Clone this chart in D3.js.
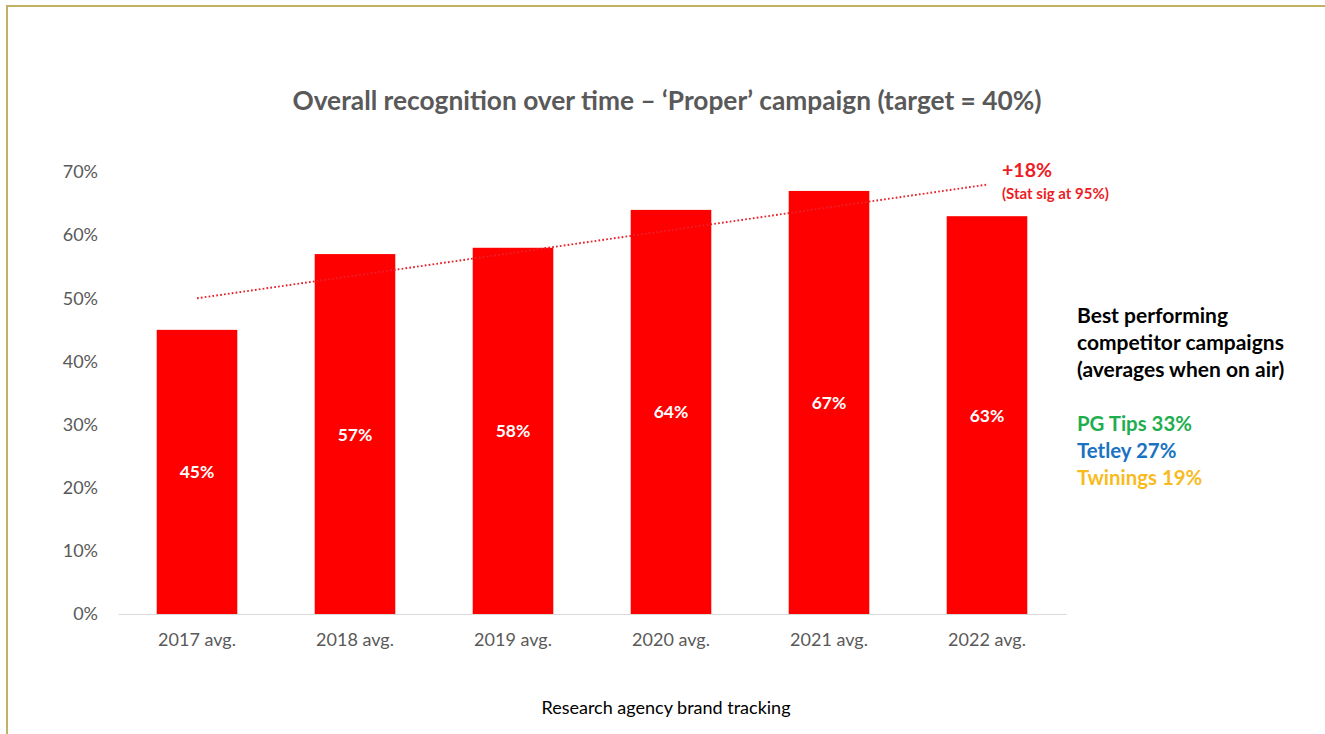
<!DOCTYPE html>
<html>
<head>
<meta charset="utf-8">
<script src="https://cdn.jsdelivr.net/npm/d3@7"></script>
<style>
  html, body { margin: 0; padding: 0; background: #ffffff; }
  svg { display: block; }
</style>
</head>
<body>
<svg id="chart" width="1325" height="734"></svg>
<script>
// Recognition by year (share of respondents)
const categories = ["2017 avg.", "2018 avg.", "2019 avg.", "2020 avg.", "2021 avg.", "2022 avg."];
const recognition = [0.45, 0.57, 0.58, 0.64, 0.67, 0.63];
const yTicks = [0, 0.1, 0.2, 0.3, 0.4, 0.5, 0.6, 0.7];

// Competitor benchmarks shown in the side panel
const competitorNames = ["PG Tips", "Tetley", "Twinings"];
const competitorValues = [0.33, 0.27, 0.19];
const competitorColors = ["#1fae4f", "#1a72c2", "#f7bb1e"];

const titleText = "Overall recognition over time \u2013 \u2018Proper\u2019 campaign (target = 40%)";
const changeText = "+18%";
const sigText = "(Stat sig at 95%)";
const panelLines = ["Best performing", "competitor campaigns", "(averages when on air)"];
const sourceText = "Research agency brand tracking";

const FONT = "Lato, 'Open Sans', sans-serif";
const svg = d3.select("#chart");

// Frame
svg.append("rect")
  .attr("x", 7).attr("y", 6)
  .attr("width", 1340).attr("height", 760)
  .attr("fill", "none")
  .attr("stroke", "#c2b063")
  .attr("stroke-width", 2);

const plot = { left: 118, right: 1066, top: 172, bottom: 614 };

const x = d3.scaleBand()
  .domain(categories)
  .range([plot.left, plot.right])
  .paddingInner(0.49)
  .paddingOuter(0.245);

const y = d3.scaleLinear()
  .domain([0, 0.7])
  .range([plot.bottom, plot.top]);

const pct = d3.format(".0%");

// Title
svg.append("text")
  .attr("x", 667).attr("y", 110)
  .attr("text-anchor", "middle")
  .attr("font-family", FONT)
  .attr("font-weight", 700)
  .attr("font-size", 26.3)
  .attr("fill", "#595959")
  .text(titleText);

// Y axis labels (no line, no ticks)
const yAxis = d3.axisLeft(y)
  .tickValues(yTicks)
  .tickFormat(pct)
  .tickSize(0)
  .tickPadding(0);
const yg = svg.append("g")
  .attr("transform", `translate(98,0)`)
  .call(yAxis);
yg.select(".domain").remove();
yg.selectAll("text")
  .attr("font-family", FONT)
  .attr("font-size", 18)
  .attr("fill", "#595959");

// Bars
svg.append("g").selectAll("rect")
  .data(recognition)
  .join("rect")
  .attr("x", (d, i) => x(categories[i]))
  .attr("y", d => y(d))
  .attr("width", x.bandwidth())
  .attr("height", d => y(0) - y(d))
  .attr("fill", "#ff0000");

// Baseline and category labels
const xAxis = d3.axisBottom(x).tickSize(0).tickPadding(19);
const xg = svg.append("g")
  .attr("transform", `translate(0,${plot.bottom})`)
  .call(xAxis);
xg.select(".domain").attr("stroke", "#d9d9d9").attr("stroke-width", 1.2);
xg.selectAll("text")
  .attr("font-family", FONT)
  .attr("font-size", 18)
  .attr("fill", "#595959");

// Value labels centred in each bar
svg.append("g").selectAll("text")
  .data(recognition)
  .join("text")
  .attr("x", (d, i) => x(categories[i]) + x.bandwidth() / 2)
  .attr("y", d => (y(d) + y(0)) / 2 + 6.5)
  .attr("text-anchor", "middle")
  .attr("font-family", FONT)
  .attr("font-weight", 700)
  .attr("font-size", 17.5)
  .attr("fill", "#ffffff")
  .text(d => pct(d));

// Linear trend line across the yearly values
const idx = recognition.map((d, i) => i);
const mx = d3.mean(idx), my = d3.mean(recognition);
const slope = d3.sum(idx, i => (i - mx) * (recognition[i] - my)) / d3.sum(idx, i => (i - mx) ** 2);
const intercept = my - slope * mx;
const trend = idx.map(i => ({ cat: categories[i], v: intercept + slope * i }));
const cx = c => x(c) + x.bandwidth() / 2;
svg.append("path")
  .datum([trend[0], trend[trend.length - 1]])
  .attr("d", d3.line().x(d => cx(d.cat)).y(d => y(d.v)))
  .attr("fill", "none")
  .attr("stroke", "#e8202a")
  .attr("stroke-width", 1.9)
  .attr("stroke-dasharray", "1.7,2.2");

// Trend annotation
svg.append("text")
  .attr("x", 1002).attr("y", 177)
  .attr("font-family", FONT)
  .attr("font-weight", 700)
  .attr("font-size", 19.6)
  .attr("fill", "#ee1c24")
  .text(changeText);
svg.append("text")
  .attr("x", 1002).attr("y", 199)
  .attr("font-family", FONT)
  .attr("font-weight", 700)
  .attr("font-size", 15)
  .attr("fill", "#ee1c24")
  .text(sigText);

// Competitor panel
const panel = svg.append("g").attr("font-family", FONT).attr("font-weight", 700);
panel.selectAll("text.head")
  .data(panelLines)
  .join("text")
  .attr("class", "head")
  .attr("x", 1077)
  .attr("y", (d, i) => 323 + i * 27)
  .attr("font-size", 21)
  .attr("fill", "#000000")
  .text(d => d);
panel.selectAll("text.comp")
  .data(competitorValues)
  .join("text")
  .attr("class", "comp")
  .attr("x", 1077)
  .attr("y", (d, i) => 431 + i * 27)
  .attr("font-size", 20.4)
  .attr("fill", (d, i) => competitorColors[i])
  .text((d, i) => `${competitorNames[i]} ${pct(d)}`);

// Source note
svg.append("text")
  .attr("x", 666).attr("y", 714)
  .attr("text-anchor", "middle")
  .attr("font-family", FONT)
  .attr("font-size", 18)
  .attr("fill", "#000000")
  .text(sourceText);
</script>
</body>
</html>
